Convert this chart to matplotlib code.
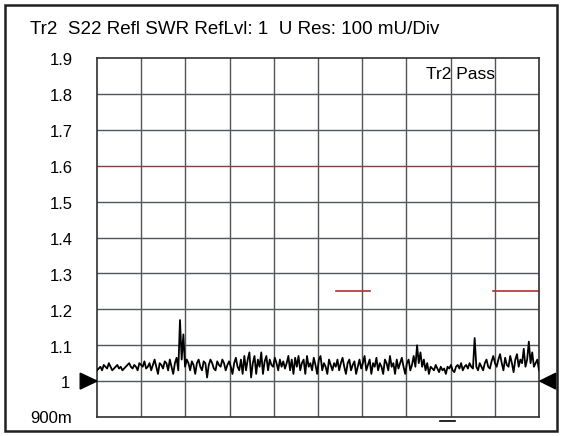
import numpy as np
import matplotlib
matplotlib.use("Agg")
import matplotlib.pyplot as plt
from matplotlib.patches import Rectangle, Polygon

plt.rcParams['font.family'] = ['Liberation Sans', 'DejaVu Sans']

title = "Tr2  S22 Refl SWR RefLvl: 1  U Res: 100 mU/Div"
ytick_vals = [1.9, 1.8, 1.7, 1.6, 1.5, 1.4, 1.3, 1.2, 1.1]
ytick_labels = ["1.9", "1.8", "1.7", "1.6", "1.5", "1.4", "1.3", "1.2", "1.1"]
ref_level = 1.0
bottom_label = "900m"
limit_value = 1.25
limit_segments = [(5.4, 6.18), (8.95, 10.0)]  # in x divisions
status_text = "Tr2 Pass"

trace = [
    1.03, 1.035, 1.04, 1.03, 1.045, 1.04, 1.035, 1.05, 1.04, 1.03, 1.035, 1.04, 1.045, 1.035, 1.04, 1.03,
    1.035, 1.04, 1.045, 1.05, 1.04, 1.035, 1.045, 1.04, 1.03, 1.05, 1.045, 1.04, 1.055, 1.035, 1.04, 1.05,
    1.03, 1.045, 1.06, 1.04, 1.02, 1.05, 1.045, 1.035, 1.055, 1.05, 1.03, 1.06, 1.04, 1.02, 1.05, 1.065,
    1.03, 1.17, 1.06, 1.13, 1.04,
    1.06, 1.05, 1.03, 1.055, 1.045, 1.02, 1.05, 1.06, 1.04, 1.03, 1.055, 1.05, 1.01, 1.045, 1.06, 1.05,
    1.035, 1.03, 1.055, 1.045, 1.04, 1.06, 1.05, 1.03, 1.045, 1.055, 1.04, 1.02, 1.05, 1.065, 1.04, 1.03, 1.06,
    1.02, 1.07, 1.03, 1.06, 1.08, 1.01, 1.05, 1.07, 1.02, 1.06, 1.04, 1.08, 1.02, 1.055, 1.07, 1.03,
    1.06, 1.045, 1.04, 1.065, 1.05, 1.03, 1.06, 1.04, 1.055, 1.035, 1.05, 1.07, 1.03, 1.06, 1.02, 1.065,
    1.04, 1.07, 1.03, 1.05, 1.06, 1.02, 1.07, 1.04, 1.05, 1.03, 1.065, 1.045, 1.02, 1.06, 1.07, 1.03,
    1.05, 1.04, 1.02, 1.06, 1.045, 1.03, 1.05,
    1.04, 1.06, 1.03, 1.05, 1.065, 1.04, 1.02, 1.05, 1.06, 1.03, 1.045, 1.055, 1.02, 1.04, 1.06, 1.035,
    1.05, 1.07, 1.03, 1.045, 1.06, 1.02, 1.05, 1.04, 1.065, 1.03, 1.05, 1.04, 1.02, 1.06, 1.05, 1.03,
    1.07, 1.04, 1.05, 1.02, 1.06, 1.035, 1.05, 1.065, 1.04, 1.02, 1.05, 1.06, 1.03, 1.045, 1.07, 1.04,
    1.10, 1.05, 1.08,
    1.04, 1.06, 1.03, 1.05, 1.02, 1.04, 1.035, 1.03, 1.045, 1.035, 1.025, 1.04, 1.03, 1.035, 1.02, 1.04,
    1.035, 1.045, 1.03, 1.025, 1.04, 1.045, 1.035, 1.05, 1.03, 1.04, 1.045, 1.035, 1.05, 1.04, 1.035,
    1.12, 1.04,
    1.03, 1.05, 1.04, 1.03, 1.05, 1.06, 1.04, 1.035, 1.055, 1.07, 1.05, 1.04, 1.06, 1.075, 1.05, 1.03,
    1.065, 1.045, 1.04, 1.07, 1.05, 1.025, 1.06, 1.075, 1.04, 1.06, 1.05, 1.09, 1.04, 1.06, 1.11, 1.05,
    1.08, 1.04, 1.05, 1.06, 1.03,
]

W, H = 563, 436
fig = plt.figure(figsize=(W / 100, H / 100), dpi=100)
fig.patch.set_facecolor('white')

# outer border
fig.add_artist(Rectangle((5 / W, 5 / H), (557 - 5) / W, (431 - 5) / H,
                         transform=fig.transFigure, fill=False,
                         edgecolor='#202020', linewidth=1.8))

ax_l, ax_r, ax_t, ax_b = 97, 539, 58, 417
ax = fig.add_axes([ax_l / W, (H - ax_b) / H, (ax_r - ax_l) / W, (ax_b - ax_t) / H])
ax.set_xlim(0, 10)
ax.set_ylim(0.9, 1.9)

grid_color = '#50565c'
for k in range(1, 10):
    ax.axvline(k, color=grid_color, lw=1.0, zorder=1)
for v in ytick_vals[1:] + [ref_level]:
    c = '#7a4444' if abs(v - 1.6) < 1e-9 else grid_color
    ax.axhline(v, color=c, lw=1.0, zorder=1)

for s in ax.spines.values():
    s.set_color('#303030')
    s.set_linewidth(1.2)
ax.set_xticks([])
ax.set_yticks([])

# limit lines
for x0, x1 in limit_segments:
    ax.plot([x0, x1], [limit_value, limit_value], color='#b03030', lw=1.2, zorder=2)

# trace
xs = np.linspace(0, 10, len(trace))
ax.plot(xs, trace, color='black', lw=1.3, zorder=3)

# y labels
for v, lab in zip(ytick_vals, ytick_labels):
    ax.text(-0.54, v - 0.008, lab, ha='right', va='center', fontsize=12, clip_on=False)
ax.text(-0.61, ref_level - 0.008, "1", ha='right', va='center', fontsize=12, clip_on=False)
ax.text(-0.56, 0.9 - 0.005, bottom_label, ha='right', va='center', fontsize=12, clip_on=False)

# reference markers
tri_h = 0.022
ax.add_patch(Polygon([[-0.38, ref_level + tri_h], [-0.38, ref_level - tri_h], [0.0, ref_level]],
                     closed=True, color='black', clip_on=False, zorder=4))
ax.add_patch(Polygon([[10.38, ref_level + tri_h], [10.38, ref_level - tri_h], [10.02, ref_level]],
                     closed=True, color='black', clip_on=False, zorder=4))

# small dash below axis
ax.plot([7.75, 8.1], [0.888, 0.888], color='black', lw=1.2, clip_on=False)

# status text
ax.text(9.0, 1.855, status_text, ha='right', va='center', fontsize=12.5)

# title
fig.text(30 / W, 1 - 30 / H, title, ha='left', va='center', fontsize=13.5)

fig.savefig("out.png", dpi=100)
